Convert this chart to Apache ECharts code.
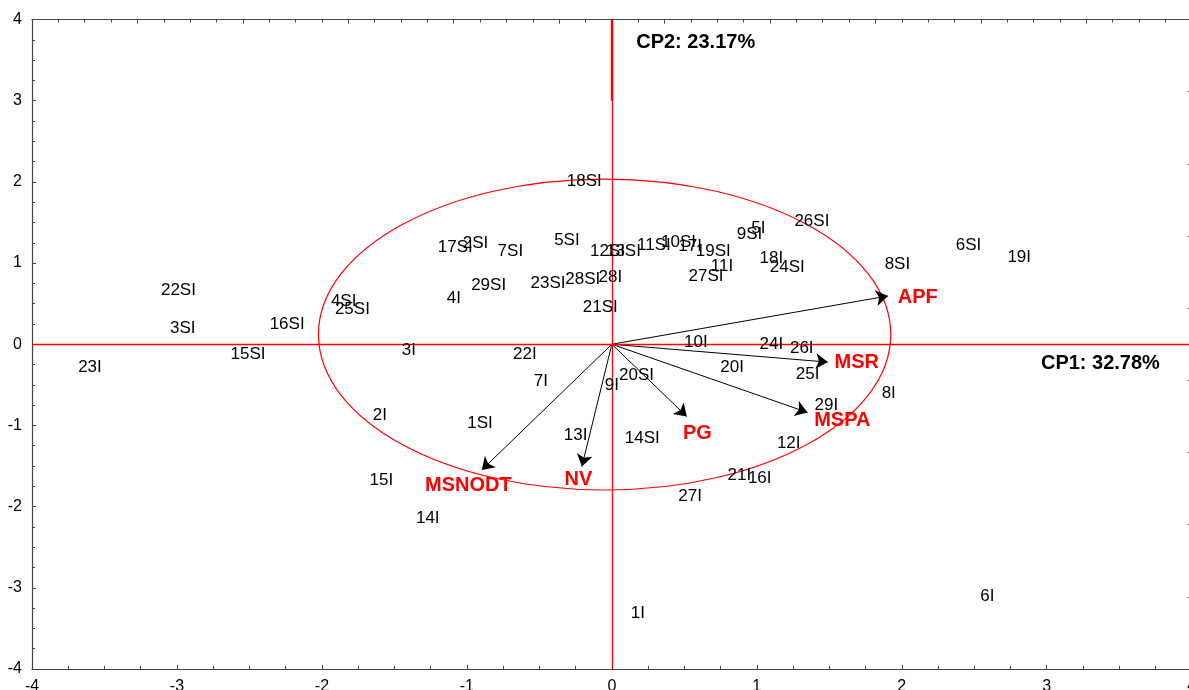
<!DOCTYPE html>
<html>
<head>
<meta charset="utf-8">
<script src="https://cdn.jsdelivr.net/npm/echarts@6/dist/echarts.min.js"></script>
<style>
  html, body { margin: 0; padding: 0; background: #fff; }
  #biplot { width: 1189px; height: 690px; }
</style>
</head>
<body>
<div id="biplot"></div>
<script>
// observations (scores on CP1 / CP2)
var obsNames = ['18SI','26SI','5I','9SI','17SI','2SI','7SI','5SI','12SI','13SI','11SI','10SI','17I','19SI',
  '11I','27SI','18I','24SI','8SI','6SI','19I','22SI','3SI','16SI','15SI','23I','4SI','25SI','4I','29SI',
  '23SI','28SI','28I','21SI','3I','22I','7I','9I','20SI','10I','20I','24I','26I','25I','8I','29I','12I',
  '2I','1SI','13I','14SI','15I','14I','21I','16I','27I','1I','6I'];
var obsX = [-0.19, 1.38, 1.01, 0.95, -1.08, -0.94, -0.70, -0.31, -0.03, 0.08, 0.29, 0.46, 0.54, 0.70,
  0.76, 0.65, 1.10, 1.21, 1.97, 2.46, 2.81, -2.99, -2.96, -2.24, -2.51, -3.60, -1.85, -1.79, -1.09, -0.85,
  -0.44, -0.20, -0.01, -0.08, -1.40, -0.60, -0.49, 0.00, 0.17, 0.58, 0.83, 1.10, 1.31, 1.35, 1.91, 1.48, 1.22,
  -1.60, -0.91, -0.25, 0.21, -1.59, -1.27, 0.88, 1.02, 0.54, 0.18, 2.59];
var obsY = [2.01, 1.52, 1.43, 1.35, 1.19, 1.24, 1.14, 1.28, 1.15, 1.14, 1.22, 1.26, 1.21, 1.15,
  0.96, 0.84, 1.06, 0.95, 0.99, 1.22, 1.07, 0.67, 0.20, 0.25, -0.12, -0.28, 0.53, 0.43, 0.57, 0.72,
  0.75, 0.80, 0.83, 0.45, -0.07, -0.13, -0.46, -0.51, -0.38, 0.02, -0.29, 0.00, -0.05, -0.37, -0.61, -0.75, -1.22,
  -0.88, -0.97, -1.12, -1.16, -1.67, -2.14, -1.62, -1.65, -1.87, -3.31, -3.10];

// variables (loading vectors) and where their names sit
var varNames = ['APF', 'MSR', 'MSPA', 'PG', 'NV', 'MSNODT'];
var varX = [1.905, 1.49, 1.35, 0.517, -0.207, -0.897];
var varY = [0.595, -0.22, -0.84, -0.89, -1.507, -1.548];
var varLabelX = [2.11, 1.69, 1.59, 0.59, -0.23, -0.99];
var varLabelY = [0.58, -0.22, -0.94, -1.10, -1.67, -1.74];

// correlation ellipse: centre and radii in axis units
var ellCenter = [-0.05, 0.12];
var ellRadius = [1.974, 1.915];

var cpNames = ['CP1: 32.78%', 'CP2: 23.17%'];
var cpX = [2.96, 0.168];
var cpY = [-0.24, 3.72];

var axisColor = '#444';
var txt = '#000';

var chart = echarts.init(document.getElementById('biplot'));

var obsData = obsNames.map(function (n, i) { return [obsX[i], obsY[i], n]; });
var varLines = varNames.map(function (n, i) { return { coords: [[0, 0], [varX[i], varY[i]]] }; });
var varLabels = varNames.map(function (n, i) { return [varLabelX[i], varLabelY[i], n]; });
var cpData = cpNames.map(function (n, i) { return [cpX[i], cpY[i], n]; });

function textSeries(data, lbl) {
  return {
    type: 'scatter',
    symbolSize: 0,
    silent: true,
    itemStyle: { opacity: 1 },
    data: data,
    label: Object.assign({
      show: true, opacity: 1, textBorderWidth: 0, fontFamily: 'Liberation Sans',
      formatter: function (p) { return p.data[2]; }
    }, lbl),
    emphasis: { disabled: true },
    z: 5
  };
}

chart.setOption({
  animation: false,
  grid: { left: 32, top: 19.5, right: -2.7, bottom: 21, outerBoundsMode: 'none' },
  xAxis: [{
    type: 'value', min: -4, max: 4, interval: 1,
    axisLine: { onZero: false, lineStyle: { color: axisColor, width: 1.2 } },
    axisTick: { inside: true, length: 4, lineStyle: { color: axisColor } },
    minorTick: { show: true, splitNumber: 4, length: 3, lineStyle: { color: axisColor } },
    axisLabel: { color: txt, fontSize: 16, fontFamily: 'Liberation Sans', margin: 10 },
    splitLine: { show: false }
  }, {
    type: 'value', position: 'top', min: 0, max: 11, interval: 1,
    axisLine: { onZero: false, lineStyle: { color: axisColor, width: 1.2 } },
    axisTick: { inside: true, length: 4, lineStyle: { color: axisColor } },
    minorTick: { show: true, splitNumber: 4, length: 3, lineStyle: { color: axisColor } },
    axisLabel: { show: false },
    splitLine: { show: false }
  }],
  yAxis: [{
    type: 'value', min: -4, max: 4, interval: 1,
    axisLine: { onZero: false, lineStyle: { color: axisColor, width: 1.2 } },
    axisTick: { inside: true, length: 4, lineStyle: { color: axisColor } },
    minorTick: { show: true, splitNumber: 4, length: 3, lineStyle: { color: axisColor } },
    axisLabel: { color: txt, fontSize: 16, fontFamily: 'Liberation Sans', margin: 10 },
    splitLine: { show: false }
  }, {
    type: 'value', position: 'right', min: 0, max: 9, interval: 1,
    axisLine: { onZero: false, lineStyle: { color: axisColor } },
    axisTick: { inside: true, length: 4, lineStyle: { color: axisColor } },
    axisLabel: { show: false },
    splitLine: { show: false }
  }],
  series: [{
    // ellipse
    type: 'custom',
    silent: true,
    data: [[ellCenter[0], ellCenter[1], ellRadius[0], ellRadius[1]]],
    renderItem: function (params, api) {
      var c = api.coord([api.value(0), api.value(1)]);
      var s = api.size([api.value(2), api.value(3)]);
      return {
        type: 'ellipse',
        shape: { cx: c[0], cy: c[1], rx: s[0], ry: s[1] },
        style: { fill: null, stroke: '#ff0000', lineWidth: 1.2 }
      };
    },
    z: 2
  }, {
    // red axes through the origin
    type: 'line',
    data: [],
    markLine: {
      silent: true,
      symbol: 'none',
      label: { show: false },
      lineStyle: { color: '#ff0000', width: 1.3, type: 'solid', opacity: 1 },
      data: [
        { xAxis: 0 },
        { yAxis: 0 },
        [{ coord: [0, 3.0], lineStyle: { width: 2.4 } }, { coord: [0, 4] }]
      ]
    },
    z: 3
  }, {
    // loading vectors
    type: 'lines',
    coordinateSystem: 'cartesian2d',
    silent: true,
    symbol: ['none', 'arrow'],
    symbolSize: [8, 12],
    lineStyle: { color: '#000', width: 1, opacity: 1, curveness: 0 },
    data: varLines,
    z: 4
  },
  textSeries(varLabels, { position: 'inside', color: '#ff0000', fontSize: 20, fontWeight: 'bold' }),
  textSeries(obsData, { position: 'inside', color: txt, fontSize: 17 }),
  textSeries(cpData, { position: 'right', distance: 0, color: txt, fontSize: 20, fontWeight: 'bold' })
  ]
});
</script>
</body>
</html>
